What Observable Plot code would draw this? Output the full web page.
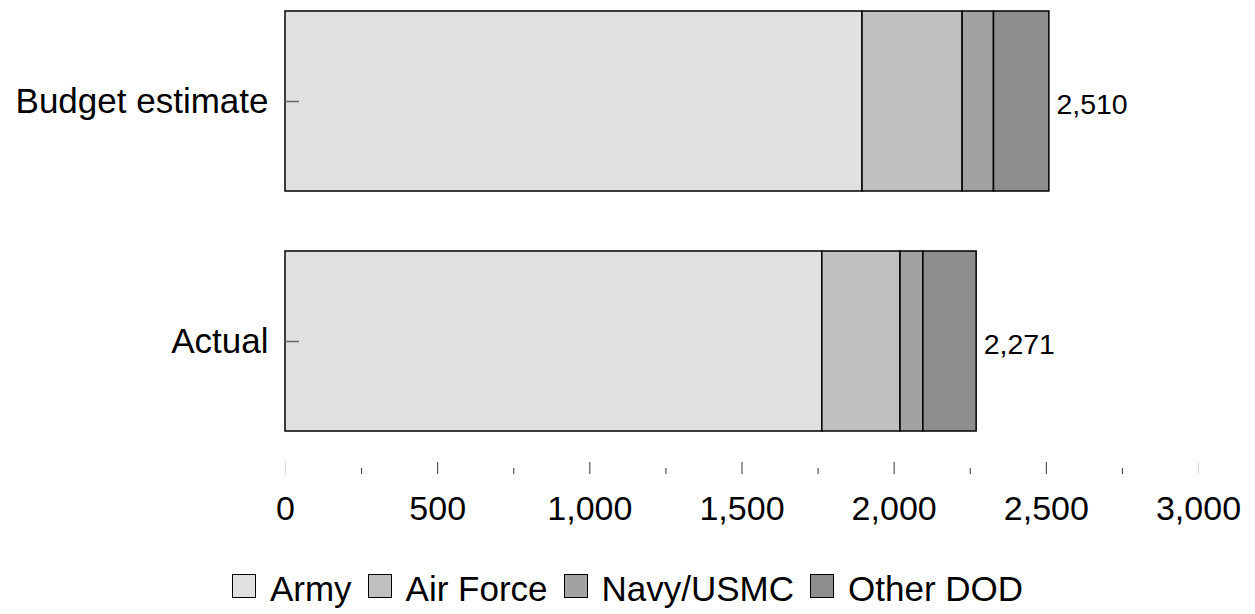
<!DOCTYPE html>
<html>
<head>
<meta charset="utf-8">
<script src="https://cdn.jsdelivr.net/npm/d3@7"></script>
<script src="https://cdn.jsdelivr.net/npm/@observablehq/plot@0.6"></script>
<style>
  html, body { margin: 0; padding: 0; background: #fff; }
  body { width: 1255px; font-family: "Liberation Sans", Arial, sans-serif; }
  #legend { display: flex; justify-content: center; align-items: center; margin-top: 24px; font-size: 35px; line-height: 40px; color: #000; }
  .item { display: flex; align-items: center; margin: 0 8px; }
  .sw { width: 24px; height: 24px; box-sizing: border-box; border: 1.5px solid #000; margin-right: 14px; position: relative; top: -3px; }
</style>
</head>
<body>
<div id="chart"></div>
<div id="legend"></div>
<script>
const categories = ["Budget estimate", "Actual"];
const services = ["Army", "Air Force", "Navy/USMC", "Other DOD"];
const budgetValues = [1896, 329, 103, 182];
const actualValues = [1764, 257, 75, 175];
const totals = [2510, 2271];
const colors = ["#e0e0e0", "#c0c0c0", "#a2a2a2", "#8e8e8e"];
const majorTicks = [500, 1000, 1500, 2000, 2500];
const edgeTicks = [0, 3000];
const minorTicks = [250, 750, 1250, 1750, 2250, 2750];
const tickLabels = [0, 500, 1000, 1500, 2000, 2500, 3000];

const rows = [];
[budgetValues, actualValues].forEach((vals, ci) => {
  vals.forEach((v, si) => rows.push({category: categories[ci], service: services[si], value: v}));
});
const totalRows = categories.map((c, i) => ({category: c, total: totals[i]}));

const font = "'Liberation Sans', Arial, sans-serif";

const chart = Plot.plot({
  width: 1255,
  height: 545,
  marginLeft: 285,
  marginRight: 57,
  marginTop: 0,
  marginBottom: 83,
  style: {fontFamily: font, background: "#fff", color: "#000"},
  x: {domain: [0, 3000], label: null},
  y: {domain: categories, range: [11, 431], paddingInner: 0.25, paddingOuter: 0, label: null},
  color: {domain: services, range: colors},
  marks: [
    Plot.barX(rows, {x: "value", y: "category", fill: "service", stroke: "#000", strokeWidth: 1.5}),
    Plot.ruleX(categories, {x: 0, y: d => d, stroke: "#c4c4c4", strokeWidth: 2}),
    Plot.text(totalRows, {x: "total", y: "category", text: d => d3.format(",")(d.total), dx: 7, dy: 3, textAnchor: "start", fontSize: 28.5, fill: "#000"}),
    Plot.axisY({tickSize: 14, dx: 14, tickFormat: () => "", stroke: "#666", strokeWidth: 1.5}),
    Plot.axisY({tickSize: 0, tickPadding: 17, fontSize: 35, label: null, fill: "#000"}),
    Plot.axisX({ticks: majorTicks, tickSize: 12, tickFormat: () => "", stroke: "#333", label: null}),
    Plot.axisX({ticks: edgeTicks, tickSize: 12, tickFormat: () => "", stroke: "#d8d8d8", label: null}),
    Plot.axisX({ticks: minorTicks, tickSize: 6, dy: 6, tickFormat: () => "", stroke: "#333", label: null}),
    Plot.axisX({ticks: tickLabels, tickSize: 0, tickPadding: 33, fontSize: 34, tickFormat: d3.format(","), label: null, fill: "#000"})
  ]
});
document.getElementById("chart").appendChild(chart);

const legend = document.getElementById("legend");
services.forEach((s, i) => {
  const item = document.createElement("div");
  item.className = "item";
  const sw = document.createElement("span");
  sw.className = "sw";
  sw.style.background = colors[i];
  const t = document.createElement("span");
  t.textContent = s;
  item.appendChild(sw);
  item.appendChild(t);
  legend.appendChild(item);
});
</script>
</body>
</html>
